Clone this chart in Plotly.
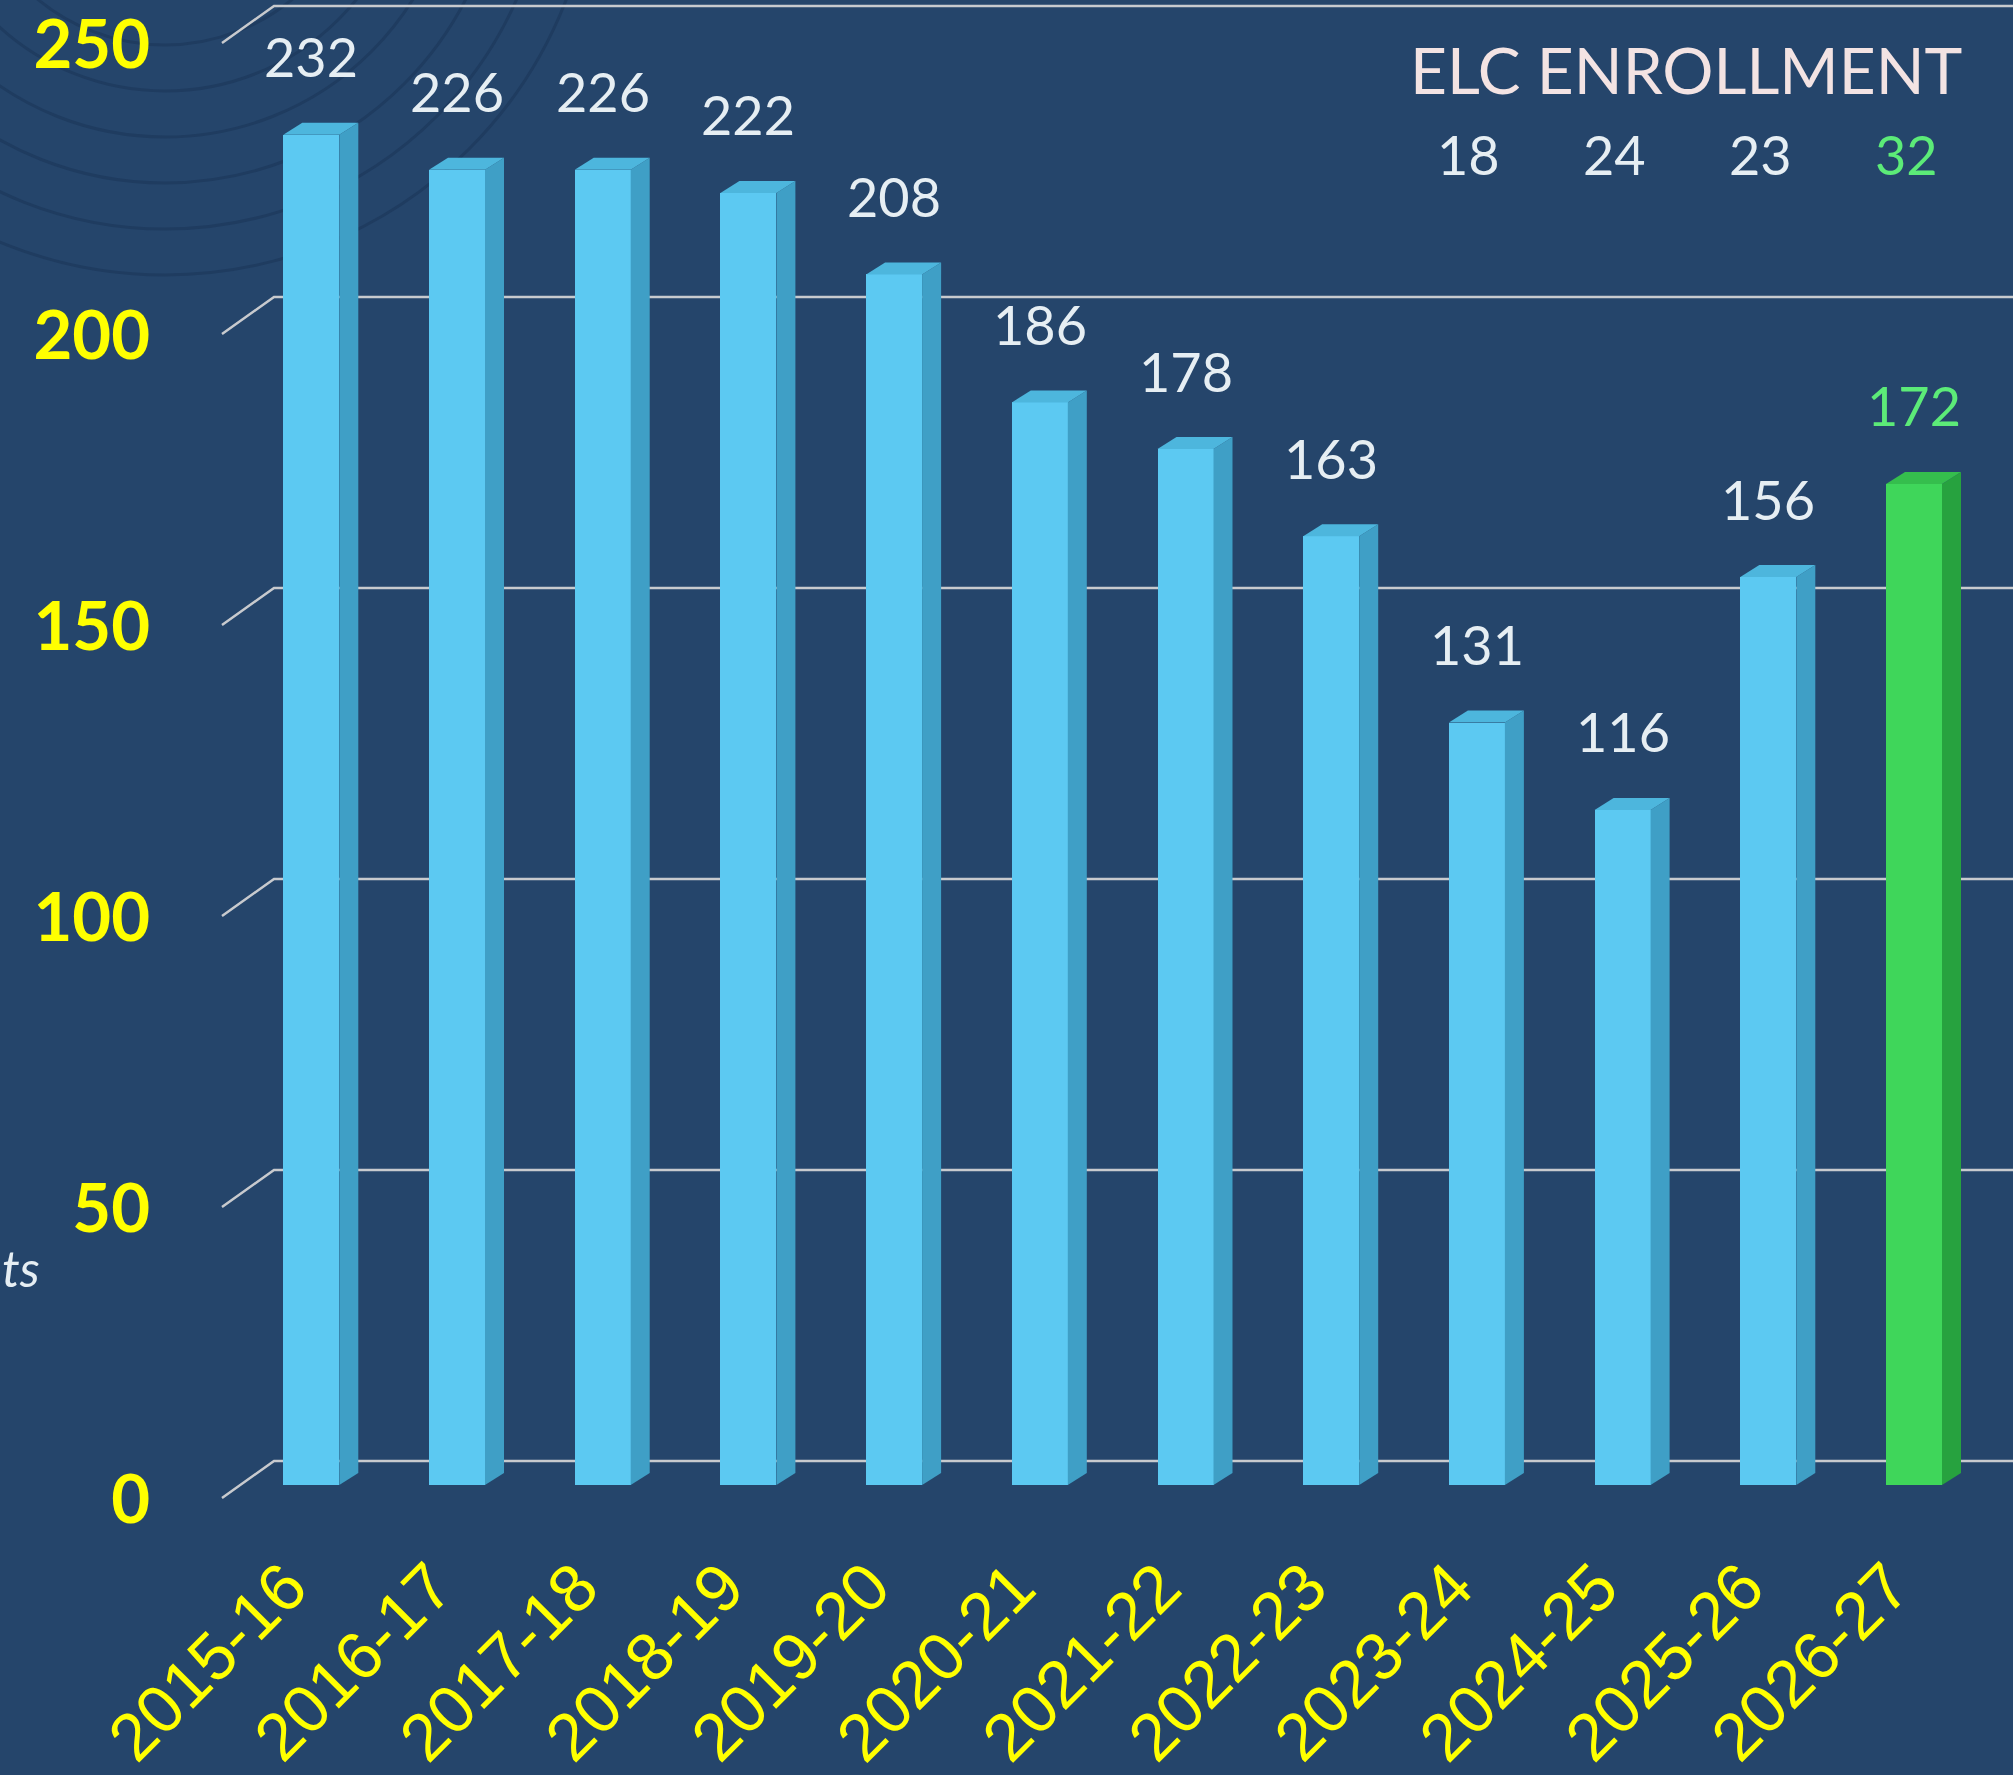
import plotly.graph_objects as go

# ---------------- data ----------------
years = ["2015-16", "2016-17", "2017-18", "2018-19", "2019-20", "2020-21",
         "2021-22", "2022-23", "2023-24", "2024-25", "2025-26", "2026-27"]
students = [232, 226, 226, 222, 208, 186, 178, 163, 131, 116, 156, 172]
highlight_year = "2026-27"
elc_title = "ELC ENROLLMENT"
elc_years = ["2023-24", "2024-25", "2025-26", "2026-27"]
elc_values = [18, 24, 23, 32]
y_ticks = [0, 50, 100, 150, 200, 250]
side_text = "ts"

# ---------------- geometry / style ----------------
W, H = 2013, 1775
X0_PX, PX_PER_CAT = 311.3, 145.7          # x pixel of first category, spacing
PX_PER_UNIT = 5.82                          # pixels per student
FRONT_BASE_PX = 1485                        # bar front face zero line
WALL_BASE_PX = 1461                         # back wall zero line
LABEL_BASE_PX = 1500                        # y tick label centre for 0
WALL_CORNER_PX, FLOOR_FRONT_PX, FLOOR_DY_PX = 274, 222, 37
BAR_W = 56 / PX_PER_CAT
DEPTH_DX = 19 / PX_PER_CAT
DEPTH_DY = 12 / PX_PER_UNIT

BG = "#25456B"
ARC = "#1F3C60"
GRID = "#C8CACE"
YELLOW = "#FFFF00"
WHITE_TXT = "#E6EEF3"
GREEN_TXT = "#5CEB78"
BLUE = dict(front="#5CC9F2", side="#3F9FC6", top="#4DB6DD")
GREEN = dict(front="#3FD65A", side="#27A23F", top="#35BE4D")


def px2x(px):
    return (px - X0_PX) / PX_PER_CAT


def yrange(base_px):
    return [(base_px - H) / PX_PER_UNIT, base_px / PX_PER_UNIT]


xr = [px2x(0), px2x(W)]
idx = list(range(len(years)))

fig = go.Figure()

# ---- back wall gridlines with floor diagonals (on wall axis y) ----
gx, gy = [], []
fdy = FLOOR_DY_PX / PX_PER_UNIT
for t in y_ticks:
    gx += [px2x(FLOOR_FRONT_PX), px2x(WALL_CORNER_PX), xr[1], None]
    gy += [t - fdy, t, t, None]
fig.add_trace(go.Scatter(x=gx, y=gy, mode="lines", line=dict(color=GRID, width=2.5),
                         hoverinfo="skip", showlegend=False, xaxis="x", yaxis="y"))

# ---- bars (front face) on front axis y2 ----
palettes = [GREEN if y == highlight_year else BLUE for y in years]
fig.add_trace(go.Bar(x=idx, y=students, width=BAR_W,
                     marker=dict(color=[p["front"] for p in palettes], line=dict(width=0)),
                     hoverinfo="x+y", showlegend=False, xaxis="x", yaxis="y2"))

# ---- 3D side & top faces, computed from the same data ----
for i, v, p in zip(idx, students, palettes):
    xl, xrt = i - BAR_W / 2, i + BAR_W / 2
    fig.add_trace(go.Scatter(
        x=[xrt, xrt + DEPTH_DX, xrt + DEPTH_DX, xrt, xrt],
        y=[0, DEPTH_DY, v + DEPTH_DY, v, 0],
        mode="lines", fill="toself", fillcolor=p["side"], line=dict(width=0, color=p["side"]),
        hoverinfo="skip", showlegend=False, xaxis="x", yaxis="y2"))
    fig.add_trace(go.Scatter(
        x=[xl, xl + DEPTH_DX, xrt + DEPTH_DX, xrt, xl],
        y=[v, v + DEPTH_DY, v + DEPTH_DY, v, v],
        mode="lines", fill="toself", fillcolor=p["top"], line=dict(width=0, color=p["top"]),
        hoverinfo="skip", showlegend=False, xaxis="x", yaxis="y2"))

# ---- axis carrying the yellow y tick labels ----
fig.add_trace(go.Scatter(x=[xr[0]] * len(y_ticks), y=y_ticks, mode="markers",
                         marker=dict(opacity=0), hoverinfo="skip", showlegend=False,
                         xaxis="x", yaxis="y3"))

annotations = []
# value labels above bars
for i, v, y in zip(idx, students, years):
    annotations.append(dict(x=i, y=v, xref="x", yref="y2", text=str(v), showarrow=False,
                            yshift=78, yanchor="middle",
                            font=dict(family="Lato", size=54,
                                      color=GREEN_TXT if y == highlight_year else WHITE_TXT)))

# x category labels (rotated)
for i, y in zip(idx, years):
    annotations.append(dict(x=i, y=1 - 1545 / H, xref="x", yref="paper", text=y,
                            showarrow=False, textangle=-45, xanchor="right", yanchor="top",
                            xshift=12,
                            font=dict(family="Liberation Sans", size=67, color=YELLOW)))

# ELC enrollment block
annotations.append(dict(x=1686 / W, y=1 - 70 / H, xref="paper", yref="paper", text=elc_title,
                        showarrow=False, xanchor="center", yanchor="middle",
                        font=dict(family="Lato", size=64, color="#F3E3E3")))
for y, v in zip(elc_years, elc_values):
    annotations.append(dict(x=years.index(y), y=1 - 154 / H, xref="x", yref="paper", text=str(v),
                            showarrow=False, xshift=-8, yanchor="middle",
                            font=dict(family="Lato", size=54,
                                      color=GREEN_TXT if y == highlight_year else WHITE_TXT)))

# side text at left edge
annotations.append(dict(x=0, y=1 - 1268 / H, xref="paper", yref="paper", text=side_text,
                        showarrow=False, xanchor="left", yanchor="middle",
                        font=dict(family="Lato", size=50, color=WHITE_TXT, style="italic")))

# decorative concentric arcs (top-left)
shapes = []
cx, cy = 165, -155
for r in [200, 246, 292, 338, 384, 430]:
    shapes.append(dict(type="circle", xref="paper", yref="paper", layer="below",
                       x0=(cx - r) / W, x1=(cx + r) / W,
                       y0=1 - (cy + r) / H, y1=1 - (cy - r) / H,
                       line=dict(color=ARC, width=3)))

fig.update_layout(
    width=W, height=H,
    margin=dict(l=0, r=0, t=0, b=0),
    paper_bgcolor=BG, plot_bgcolor=BG,
    showlegend=False,
    bargap=0,
    xaxis=dict(range=xr, domain=[0, 1], visible=False, fixedrange=True),
    yaxis=dict(range=yrange(WALL_BASE_PX), domain=[0, 1], visible=False),
    yaxis2=dict(range=yrange(FRONT_BASE_PX), overlaying="y", visible=False),
    yaxis3=dict(range=yrange(LABEL_BASE_PX), overlaying="y", anchor="free",
                position=150 / W, side="left", tickvals=y_ticks, showgrid=False,
                zeroline=False, showline=False, ticks="",
                tickfont=dict(family="Lato", size=67, color=YELLOW, weight="bold")),
    annotations=annotations,
    shapes=shapes,
)

fig.write_html("out.html", config={"displayModeBar": False},
               post_script="document.body.style.margin='0';"
                           "document.body.style.background='%s';" % BG)
